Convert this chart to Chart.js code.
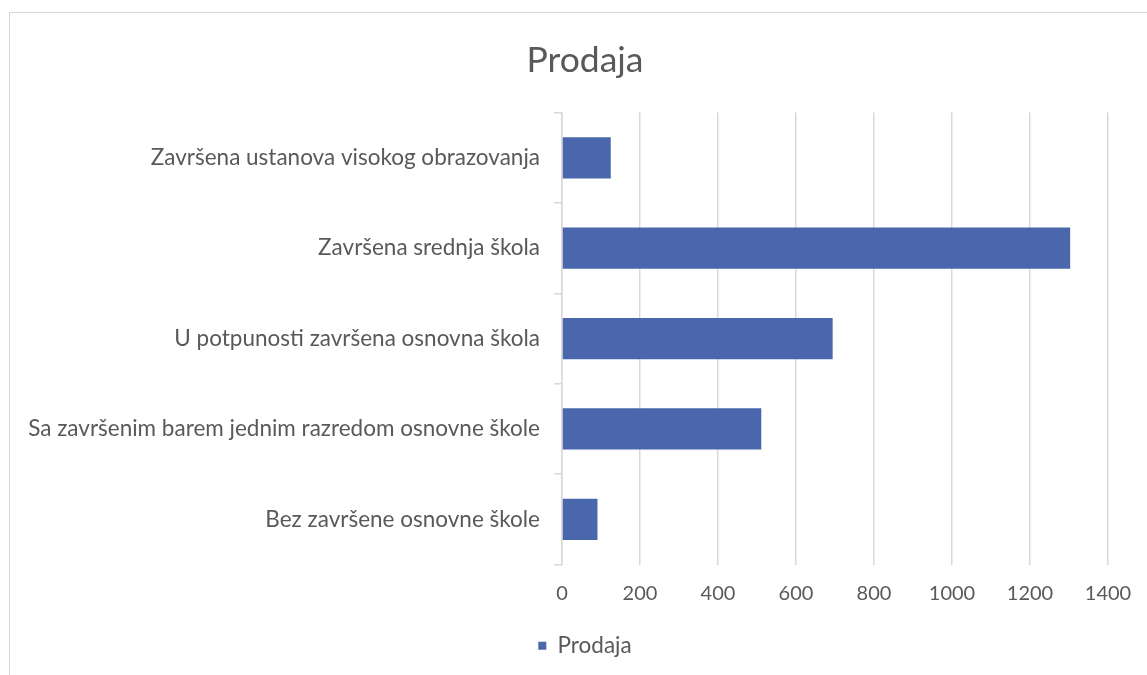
<!DOCTYPE html>
<html>
<head>
<meta charset="utf-8">
<script src="https://cdn.jsdelivr.net/npm/chart.js@4/dist/chart.umd.min.js"></script>
<style>
  body { margin: 0; background: #fff; overflow: hidden; }
  #wrap { position: relative; width: 1147px; height: 675px; }
  #frame { position: absolute; left: 9px; top: 12px; width: 1200px; height: 700px;
           border: 1px solid #d9d9d9; box-sizing: border-box; }
  canvas { position: absolute; left: 0; top: 0; }
</style>
</head>
<body>
<div id="wrap">
  <div id="frame"></div>
  <canvas id="myChart" width="1147" height="675"></canvas>
</div>
<script>
// categories, top to bottom as shown
const labels = [
    'Završena ustanova visokog obrazovanja',
    'Završena srednja škola',
    'U potpunosti završena osnovna škola',
    'Sa završenim barem jednim razredom osnovne škole',
    'Bez završene osnovne škole'
];
const values = [125, 1303, 694, 511, 91];
const seriesName = 'Prodaja';
const xMin = 0, xMax = 1400, xStep = 200;

const textColor = '#595959';
const gridColor = '#d9d9d9';
const fontFamily = 'Lato';

const data = {
    labels: labels,
    datasets: [
        {
            label: seriesName,
            data: values,
            backgroundColor: '#4a66ac',
            borderWidth: 0,
            barPercentage: 0.456,
            categoryPercentage: 1
        }
    ]
};

const config = {
    type: 'bar',
    data: data,
    options: {
        indexAxis: 'y',
        responsive: false,
        animation: false,
        layout: {
            padding: { left: 62, right: 39, top: 0, bottom: 8 }
        },
        plugins: {
            title: {
                display: true,
                text: 'Prodaja',
                color: textColor,
                font: { family: fontFamily, size: 35.5, weight: 'normal' },
                padding: { top: 39, bottom: 31 }
            },
            legend: {
                position: 'bottom',
                labels: {
                    color: textColor,
                    font: { family: fontFamily, size: 22.5 },
                    boxWidth: 8,
                    boxHeight: 8,
                    padding: 10
                }
            },
            tooltip: { enabled: false }
        },
        scales: {
            x: {
                min: xMin,
                max: xMax,
                ticks: {
                    stepSize: xStep,
                    color: textColor,
                    font: { family: fontFamily, size: 20 },
                    padding: 17,
                    callback: (v) => String(v)
                },
                grid: {
                    color: gridColor,
                    lineWidth: 1.5,
                    drawTicks: false
                },
                border: { display: false },
                afterFit: (scale) => {
                    scale.height = 60;
                    scale.paddingLeft = 0;
                    scale.paddingRight = 0;
                }
            },
            y: {
                ticks: {
                    color: textColor,
                    font: { family: fontFamily, size: 22.5 },
                    padding: 14
                },
                grid: {
                    color: gridColor,
                    lineWidth: 1.5,
                    drawOnChartArea: false,
                    drawTicks: true,
                    tickLength: 8
                },
                border: { display: true, color: gridColor, width: 1.5 },
                afterFit: (scale) => {
                    scale.width = 500;
                    // long labels run past the axis box on the left, don't clip them
                    scale._computeLabelArea = () => undefined;
                }
            }
        }
    }
};

const ctx = document.getElementById('myChart').getContext('2d');
new Chart(ctx, config);
</script>
</body>
</html>
